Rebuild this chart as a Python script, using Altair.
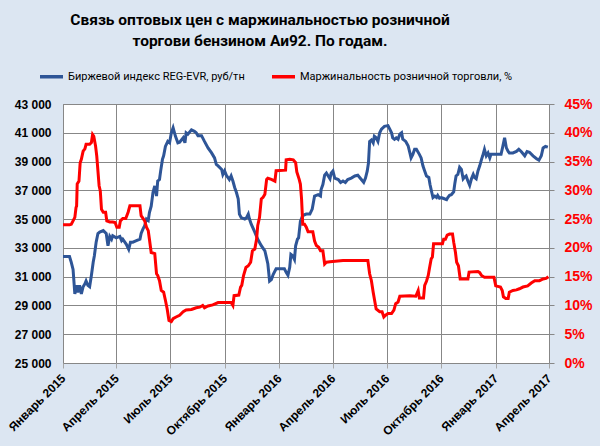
import altair as alt
import pandas as pd

# ---- data (days since 2015-01-01) ----
blue_day = [0, 11, 14, 17, 20, 23, 25, 28, 31, 34, 37, 39, 42, 45, 48, 51, 53, 56, 59, 62, 68, 73, 76, 79, 82, 84, 90, 96, 99, 101,
            107, 111, 114, 118, 124, 130, 132, 135, 138, 141, 144, 146, 149, 152, 155, 158, 160, 163, 165, 168, 170, 173, 177, 180,
            183, 186, 190, 194, 197, 203, 206, 208, 211, 217, 222, 225, 228, 234, 239, 245, 251, 256, 259, 262, 268, 270, 273, 276,
            281, 284, 287, 290, 293, 296, 298, 301, 307, 310, 313, 315, 318, 324, 329, 335, 341, 343, 346, 349, 352, 355, 360, 366,
            374, 377, 380, 383, 385, 388, 391, 393, 396, 398, 401, 405, 411, 417, 421, 423, 425, 431, 435, 436, 439, 442, 445, 448,
            451, 453, 456, 459, 465, 469, 473, 477, 481, 487, 493, 498, 504, 508, 511, 514, 516, 518, 521, 524, 526, 529, 532, 535,
            538, 543, 549, 552, 555, 557, 560, 563, 566, 569, 572, 574, 579, 583, 586, 588, 591, 594, 597, 602, 605, 608, 611, 614,
            618, 620, 623, 625, 628, 631, 633, 636, 639, 642, 648, 650, 653, 656, 660, 662, 664, 667, 670, 673, 676, 678, 681, 684,
            687, 690, 693, 695, 698, 701, 704, 707, 709, 712, 715, 718, 721, 723, 729, 735, 740, 743, 746, 749, 752, 754, 760, 766,
            770, 774, 780, 784, 788, 794, 800, 804, 808, 811, 815, 819]
blue_val = [32400, 32400, 32000, 31500, 29800, 30400, 29900, 30400, 29800, 30300, 30500, 30700, 30400, 30300, 31100, 32000, 32450,
            33400, 34000, 34100, 34200, 34000, 33150, 33800, 33600, 33850, 33700, 33800, 33500, 33600, 33250, 32900, 33400, 33400,
            33500, 33600, 34000, 34300, 34550, 35000, 34900, 35450, 35900, 36850, 37300, 36600, 37650, 37750, 38350, 39150, 39400,
            40050, 40400, 40300, 41000, 41350, 40750, 40300, 40350, 40650, 40300, 41000, 40900, 41200, 41100, 41000, 40800, 40800,
            40400, 39950, 39600, 39250, 38800, 38700, 38450, 38100, 38350, 38050, 37750, 38000, 37650, 37200, 36850, 36400, 35350,
            35100, 35000, 35100, 35350, 35000, 34650, 34100, 33600, 33150, 32800, 32450, 31900, 30700, 30800, 31150, 31550, 31550,
            31550, 31300, 31100, 31650, 32550, 32450, 32200, 33150, 33600, 33700, 34850, 35250, 35350, 35350, 35700, 36150, 36600,
            36700, 36600, 37050, 37400, 38050, 38200, 38000, 37800, 38200, 38350, 37850, 37750, 37550, 37650, 37550, 37750, 37850,
            38000, 38050, 37750, 37550, 37850, 38350, 38900, 40400, 40500, 40300, 40750, 40650, 40400, 41000, 41250, 41450, 41500,
            41250, 41000, 40650, 40550, 40650, 40550, 40900, 41000, 40550, 40400, 40100, 39600, 39250, 39500, 39850, 39850, 39500,
            39250, 38700, 38350, 38000, 37900, 37400, 36850, 36500, 36600, 36500, 36650, 36450, 36500, 36450, 36350, 36500, 36650,
            36700, 36900, 37500, 38000, 38100, 38600, 38450, 37800, 37900, 38000, 37650, 37350, 37800, 38100, 37900, 37800, 38350,
            38700, 39150, 39400, 39850, 39400, 39600, 39250, 39500, 39500, 39500, 39500, 40050, 40650, 39950, 39700, 39600, 39600,
            39700, 39850, 39700, 39400, 39700, 39650, 39400, 39200, 39100, 39400, 39950, 40050, 40000]

red_day = [0, 11, 14, 17, 20, 22, 23, 24, 27, 29, 31, 34, 37, 39, 45, 48, 50, 52, 55, 57, 61, 63, 65, 68, 72, 74, 79, 84, 88, 91,
           95, 97, 101, 106, 110, 113, 130, 132, 138, 141, 144, 146, 149, 155, 158, 160, 163, 166, 170, 173, 176, 179, 183, 186,
           191, 197, 203, 208, 217, 225, 231, 236, 239, 245, 253, 262, 284, 287, 289, 297, 300, 302, 305, 309, 313, 317, 320, 324,
           327, 329, 332, 335, 338, 341, 344, 346, 352, 358, 360, 376, 377, 383, 389, 393, 395, 399, 401, 403, 405, 408, 411, 414,
           422, 425, 428, 432, 435, 439, 442, 445, 451, 473, 515, 518, 521, 524, 526, 529, 535, 539, 542, 545, 549, 555, 559, 562,
           566, 569, 586, 596, 600, 602, 609, 611, 614, 617, 619, 622, 624, 626, 641, 643, 646, 649, 653, 658, 660, 663, 665, 668,
           671, 684, 686, 701, 704, 707, 712, 728, 731, 739, 742, 744, 748, 752, 754, 760, 766, 771, 777, 785, 791, 797, 805, 811,
           816, 820]
red_val = [24.0, 24.0, 24.1, 24.7, 25.3, 27.0, 27.3, 31.1, 31.6, 34.8, 35.4, 36.8, 37.2, 38.0, 38.0, 38.3, 39.7, 39.4, 37.7, 36.0,
           30.8, 29.9, 26.7, 26.2, 26.2, 24.7, 24.5, 24.5, 24.4, 23.6, 23.6, 24.7, 25.1, 25.1, 26.2, 27.3, 27.3, 25.6, 24.7, 23.6,
           23.0, 21.5, 19.2, 19.0, 15.5, 15.2, 14.3, 12.6, 12.3, 10.9, 9.4, 7.4, 7.2, 7.7, 8.0, 8.3, 8.9, 9.2, 9.3, 9.6, 9.7, 10.0,
           9.6, 9.9, 10.1, 10.5, 10.5, 10.0, 11.7, 11.8, 13.2, 13.5, 15.2, 16.6, 16.9, 17.5, 19.5, 19.8, 21.5, 23.9, 25.3, 28.5,
           28.8, 29.3, 31.9, 32.1, 31.9, 31.6, 33.4, 33.5, 35.3, 35.4, 35.3, 34.8, 33.2, 31.9, 31.1, 28.5, 24.1, 24.1, 23.6, 22.8,
           22.8, 21.2, 20.4, 20.1, 19.5, 19.5, 17.2, 17.5, 17.6, 17.8, 17.8, 15.5, 14.3, 12.3, 11.1, 9.4, 8.9, 8.9, 8.0, 8.3, 8.6,
           8.6, 9.2, 10.3, 10.6, 11.6, 11.7, 11.6, 12.6, 11.3, 11.3, 13.5, 14.2, 15.2, 16.4, 18.1, 18.4, 20.7, 20.7, 21.5, 21.5,
           22.2, 22.4, 22.4, 21.0, 19.2, 17.5, 16.9, 14.6, 14.6, 15.8, 15.9, 15.7, 15.2, 14.9, 14.9, 13.4, 13.2, 12.6, 11.5, 11.2,
           11.2, 12.3, 12.6, 12.7, 12.9, 13.2, 13.4, 13.9, 14.3, 14.3, 14.6, 14.7, 15.0]

series_names = ["Биржевой  индекс REG-EVR,  руб/тн", "Маржинальность  розничной торговли, %"]
series_colors = ["#2E5597", "#FF0000"]
title_lines = ["Связь оптовых цен с маржинальностью розничной", "торгови бензином Аи92. По годам."]
month_names = ["Январь", "Февраль", "Март", "Апрель", "Май", "Июнь", "Июль", "Август",
               "Сентябрь", "Октябрь", "Ноябрь", "Декабрь"]
tick_year_month = [(2015, 1), (2015, 4), (2015, 7), (2015, 10), (2016, 1), (2016, 4),
                   (2016, 7), (2016, 10), (2017, 1), (2017, 4)]
left_ticks = list(range(25000, 43001, 2000))
right_ticks = list(range(0, 46, 5))

start = pd.Timestamp("2015-01-01")
blue_df = pd.DataFrame({"date": start + pd.to_timedelta(blue_day, unit="D"),
                        "value": blue_val, "series": series_names[0]})
red_df = pd.DataFrame({"date": start + pd.to_timedelta(red_day, unit="D"),
                       "pct": red_val, "series": series_names[1]})

tick_dates = [alt.DateTime(year=y, month=m, date=1) for y, m in tick_year_month]
month_expr = "[" + ",".join("'%s'" % m for m in month_names) + "]"

GRID = "#878787"
FONT = "Roboto"

x_enc = alt.X("date:T",
              scale=alt.Scale(domain=[tick_dates[0], tick_dates[-1]]),
              axis=alt.Axis(values=tick_dates,
                            labelExpr=month_expr + "[month(datum.value)] + ' ' + year(datum.value)",
                            labelAngle=-45, labelAlign="right", labelBaseline="middle",
                            labelFont="Liberation Sans", labelFontSize=12, labelFontWeight="bold",
                            labelColor="#000000", labelPadding=8, labelOverlap=False,
                            grid=True, gridColor=GRID, gridWidth=1,
                            ticks=True, tickSize=5, tickColor="#A6A6A6",
                            domain=False, title=None))

color_scale = alt.Scale(domain=series_names, range=series_colors)
legend = alt.Legend(orient="none", legendX=-25, legendY=-41, direction="horizontal",
                    title=None, symbolType="stroke", symbolSize=529, symbolStrokeWidth=3.5,
                    labelFont=FONT, labelFontSize=11, labelColor="#000000",
                    columnPadding=14, labelOffset=3, labelLimit=400)

blue = alt.Chart(blue_df).mark_line(strokeWidth=3).encode(
    x=x_enc,
    y=alt.Y("value:Q",
            scale=alt.Scale(domain=[25000, 43000], nice=False, zero=False),
            axis=alt.Axis(values=left_ticks,
                          labelExpr="replace(format(datum.value, ','), ',', ' ')",
                          labelFont="Liberation Sans", labelFontSize=12, labelFontWeight="bold",
                          labelColor="#000000", labelPadding=12,
                          grid=True, gridColor=GRID, gridWidth=1,
                          ticks=False, domain=False, title=None)),
    color=alt.Color("series:N", scale=color_scale, legend=legend),
)

red = alt.Chart(red_df).mark_line(strokeWidth=3).encode(
    x=x_enc,
    y=alt.Y("pct:Q",
            scale=alt.Scale(domain=[0, 45], nice=False, zero=False),
            axis=alt.Axis(orient="right", values=right_ticks,
                          labelExpr="datum.value + '%'",
                          labelFont="Liberation Sans", labelFontSize=14, labelFontWeight="bold",
                          labelColor="#FF0000", labelPadding=10,
                          grid=False, ticks=True, tickSize=5, tickColor=GRID,
                          domain=False, title=None)),
    color=alt.Color("series:N", scale=color_scale, legend=legend),
)

chart = alt.layer(blue, red).resolve_scale(y="independent").properties(
    width=486, height=259,
    background="#DCE6F2",
    padding={"left": 63, "top": 104, "right": 51, "bottom": 83},
    autosize=alt.AutoSizeParams(type="none"),
    title=alt.TitleParams(text=title_lines, anchor="middle", dx=-46, dy=0,
                          font=FONT, fontSize=15.5, fontWeight="bold", color="#000000",
                          lineHeight=21, offset=14),
).configure_view(stroke=GRID, fill="#FFFFFF")

chart.save("out.html", embed_options={"renderer": "svg", "actions": False})
